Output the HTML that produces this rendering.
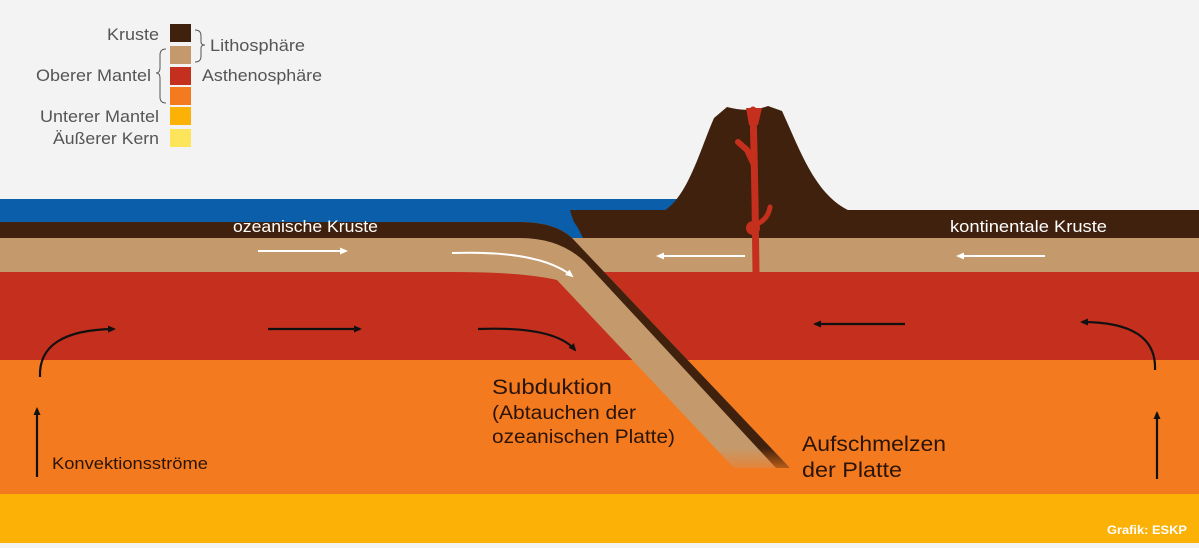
<!DOCTYPE html>
<html><head><meta charset="utf-8"><style>
html,body{margin:0;padding:0;background:#f3f3f3;}
svg{display:block;font-family:"Liberation Sans","DejaVu Sans",sans-serif;}
</style></head><body>
<svg width="1199" height="548" viewBox="0 0 1199 548" xmlns="http://www.w3.org/2000/svg">
<defs>
<marker id="ab" markerWidth="8" markerHeight="8" refX="6" refY="4" orient="auto" markerUnits="userSpaceOnUse"><path d="M0,0.5 L8,4 L0,7.5 Z" fill="#111"/></marker>
<marker id="aw" markerWidth="8" markerHeight="8" refX="6" refY="4" orient="auto" markerUnits="userSpaceOnUse"><path d="M0,0.5 L8,4 L0,7.5 Z" fill="#fff"/></marker>
<linearGradient id="fade" x1="0" y1="0" x2="0" y2="1"><stop offset="0" stop-color="#f47a20" stop-opacity="0"/><stop offset="1" stop-color="#f47a20" stop-opacity="1"/></linearGradient>
</defs>
<rect width="1199" height="548" fill="#f3f3f3"/>
<rect x="0" y="494" width="1199" height="49" fill="#fbb106"/>
<rect x="0" y="360" width="1199" height="134" fill="#f47a20"/>
<rect x="0" y="270" width="1199" height="90" fill="#c52f1d"/>
<rect x="0" y="199" width="690" height="42" fill="#0b5eaa"/>
<rect x="560" y="238" width="639" height="34" fill="#c49a6c"/>
<path d="M570,210 L1199,210 L1199,238 L583,238 L578,228 L574,222 L571,214 Z" fill="#40210d"/>
<path d="M664,211 C688,196 700,150 714,118 L727,107 Q750,113 768,106 L782,111 C800,150 815,195 850,211 Z" fill="#40210d"/>
<!-- magma -->
<g stroke="#c52f1d" fill="none" stroke-linecap="round">
<path d="M753,110 L754,150 L755,200 L756,272" stroke-width="7"/>
<path d="M754,165 L747,150 L738,142" stroke-width="6"/>
<path d="M755,225 Q768,220 770,207" stroke-width="5"/>
</g>
<path d="M746,108 L762,108 L758,125 L749,125 Z" fill="#c52f1d"/>
<circle cx="753" cy="228" r="7" fill="#c52f1d"/>
<!-- slab -->
<path d="M0,222 L520,222 Q555,222 572,238 L790,468 L734,468 L557,280 Q525,272 450,272 L0,272 Z" fill="#c49a6c"/>
<path d="M0,222 L520,222 Q555,222 572,238 L790,468 L776,468 L585,262 Q560,238 520,238 L0,238 Z" fill="#40210d"/>
<rect x="700" y="448" width="110" height="30" fill="url(#fade)"/>
<g stroke="#fff" stroke-width="2" fill="none" marker-end="url(#aw)">
<line x1="258" y1="251" x2="346" y2="251"/>
<path d="M452,253 Q540,250 572,276"/>
<line x1="745" y1="256" x2="658" y2="256"/>
<line x1="1045" y1="256" x2="958" y2="256"/>
</g>
<g stroke="#111" stroke-width="2.2" fill="none" marker-end="url(#ab)">
<path d="M40,377 Q38,330 114,329"/>
<line x1="268" y1="329" x2="360" y2="329"/>
<path d="M478,329 Q555,326 575,350"/>
<line x1="905" y1="324" x2="815" y2="324"/>
<path d="M1155,370 Q1157,322 1082,322"/>
<line x1="37" y1="477" x2="37" y2="409"/>
<line x1="1157" y1="479" x2="1157" y2="413"/>
</g>
<g fill="#fff" font-size="17">
<text x="233" y="232" textLength="145" lengthAdjust="spacingAndGlyphs">ozeanische Kruste</text>
<text x="950" y="232" textLength="157" lengthAdjust="spacingAndGlyphs">kontinentale Kruste</text>
</g>
<text x="1107" y="534" fill="#fff" font-size="12" font-weight="bold" textLength="80" lengthAdjust="spacingAndGlyphs">Grafik: ESKP</text>
<g fill="#2a1408">
<text x="492" y="394" font-size="21" textLength="120" lengthAdjust="spacingAndGlyphs">Subduktion</text>
<text x="492" y="419" font-size="19" textLength="144" lengthAdjust="spacingAndGlyphs">(Abtauchen der</text>
<text x="492" y="443" font-size="19" textLength="183" lengthAdjust="spacingAndGlyphs">ozeanischen Platte)</text>
<text x="802" y="451" font-size="21" textLength="144" lengthAdjust="spacingAndGlyphs">Aufschmelzen</text>
<text x="802" y="477" font-size="21" textLength="100" lengthAdjust="spacingAndGlyphs">der Platte</text>
<text x="52" y="469" font-size="17" textLength="156" lengthAdjust="spacingAndGlyphs">Konvektionsströme</text>
</g>
<rect x="170" y="24" width="21" height="18" fill="#40210d"/>
<rect x="170" y="46" width="21" height="18" fill="#c49a6c"/>
<rect x="170" y="67" width="21" height="18" fill="#c52f1d"/>
<rect x="170" y="87" width="21" height="18" fill="#f47a20"/>
<rect x="170" y="107" width="21" height="18" fill="#fbb106"/>
<rect x="170" y="129" width="21" height="18" fill="#fde55b"/>
<g fill="#555" font-size="17">
<text x="107" y="40" textLength="52" lengthAdjust="spacingAndGlyphs">Kruste</text>
<text x="36" y="81" textLength="115" lengthAdjust="spacingAndGlyphs">Oberer Mantel</text>
<text x="40" y="122" textLength="119" lengthAdjust="spacingAndGlyphs">Unterer Mantel</text>
<text x="53" y="144" textLength="106" lengthAdjust="spacingAndGlyphs">Äußerer Kern</text>
<text x="210" y="51" textLength="95" lengthAdjust="spacingAndGlyphs">Lithosphäre</text>
<text x="202" y="81" textLength="120" lengthAdjust="spacingAndGlyphs">Asthenosphäre</text>
</g>
<g stroke="#555" stroke-width="1" fill="none">
<path d="M195,30 Q201,30 201,36 L201,42 Q201,45 205,45 Q201,45 201,48 L201,56 Q201,62 195,62"/>
<path d="M166,49 Q160,49 160,55 L160,68 Q160,73 156,73 Q160,73 160,78 L160,97 Q160,103 166,103"/>
</g>
</svg>
</body></html>
